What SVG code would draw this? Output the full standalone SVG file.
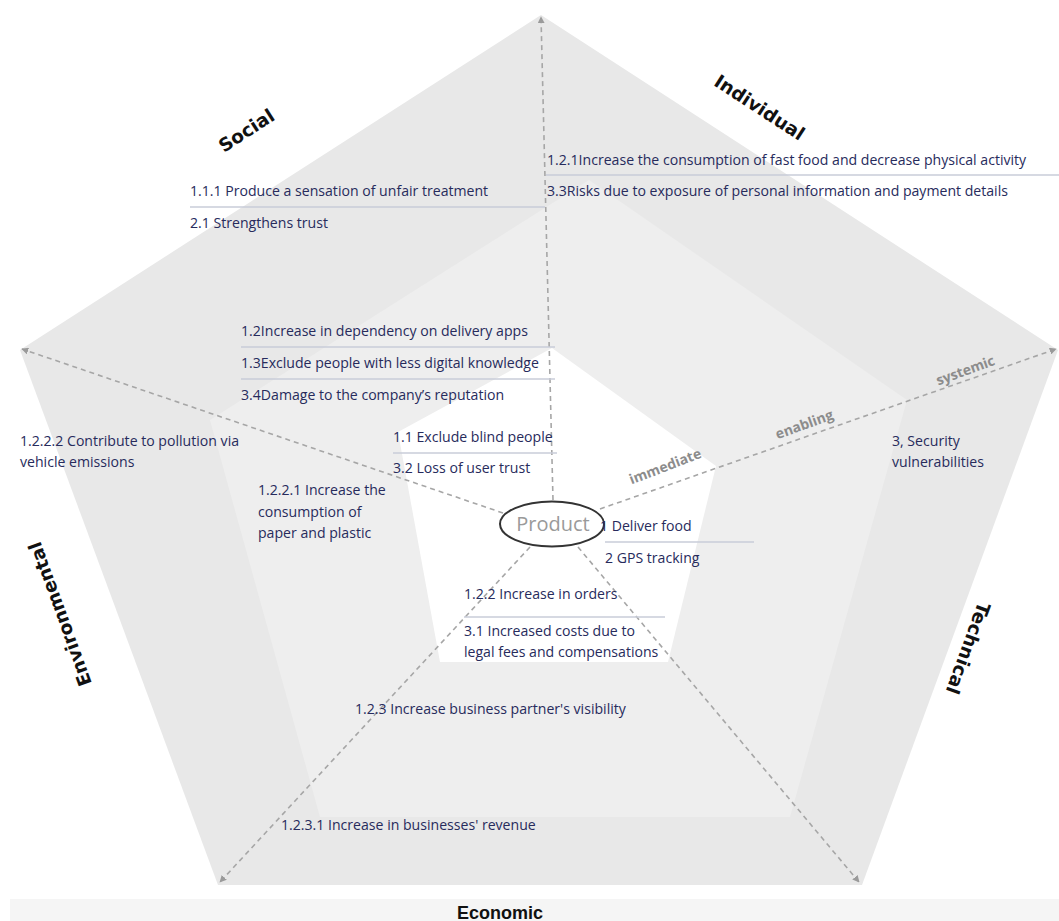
<svg xmlns="http://www.w3.org/2000/svg" width="1059" height="921" viewBox="0 0 1059 921">
  <style>
    .item { font-family: "Open Sans", "Liberation Sans", sans-serif; font-size: 14.1px; fill: #272b5c; }
    .sep { stroke: #c9ccd8; stroke-width: 1.4; fill: none; }
    .dim { font-family: "DejaVu Sans", "Liberation Sans", sans-serif; font-size: 18.5px; font-weight: bold; fill: #111; }
    .ring { font-family: "Open Sans", "Liberation Sans", sans-serif; font-size: 14px; font-weight: bold; fill: #8c8c8c; }
    .axis { stroke: #a6a6a6; stroke-width: 1.6; stroke-dasharray: 5 4; fill: none; marker-end: url(#tip); }
    #economic { font-family: "Liberation Sans", sans-serif; font-size: 18px; }
  </style>
  <defs>
    <marker id="tip" viewBox="0 0 10 10" refX="9" refY="5" markerWidth="7" markerHeight="7" orient="auto" markerUnits="userSpaceOnUse">
      <path d="M0,0 L10,5 L0,10 z" fill="#9a9a9a"/>
    </marker>
  </defs>

  <rect width="1059" height="921" fill="#ffffff"/>
  <rect x="10" y="899" width="1049" height="22" fill="#f5f5f5"/>

  <!-- nested rings: systemic (outer), enabling (middle), immediate (inner) -->
  <g id="rings">
    <polygon points="541,15 1058,350 862,885 218,885 20,350" fill="#e8e8e8"/>
    <polygon points="589,180 907,400 790,817 320,817 210,420" fill="#eeeeee"/>
    <polygon points="552,348 716,466 668,662 440,662 398,432" fill="#ffffff"/>
  </g>

  <!-- dashed axes from the product outwards -->
  <g id="connectors">
    <line class="axis" x1="553" y1="500" x2="541" y2="17"/>
    <line class="axis" x1="503" y1="513" x2="22" y2="349"/>
    <line class="axis" x1="600" y1="509" x2="1056" y2="349"/>
    <line class="axis" x1="530" y1="547" x2="220" y2="882"/>
    <line class="axis" x1="578" y1="547" x2="859" y2="882"/>
  </g>

  <!-- ring labels along the technical axis -->
  <g id="ring-labels">
    <text class="ring" text-anchor="middle" transform="translate(667,471) rotate(-21)">immediate</text>
    <text class="ring" text-anchor="middle" transform="translate(806,429) rotate(-20)">enabling</text>
    <text class="ring" text-anchor="middle" transform="translate(967,375) rotate(-20)">systemic</text>
  </g>

  <!-- dimension labels -->
  <g id="dimensions">
    <text id="social" class="dim" text-anchor="middle" transform="translate(250,136) rotate(-33)">Social</text>
    <text id="individual" class="dim" text-anchor="middle" transform="translate(756,113) rotate(33)">Individual</text>
    <text id="environmental" class="dim" text-anchor="middle" transform="translate(66,612) rotate(-110)">Environmental</text>
    <text id="technical" class="dim" text-anchor="middle" transform="translate(962,646) rotate(110)">Technical</text>
    <text id="economic" class="dim" text-anchor="middle" x="500" y="919">Economic</text>
  </g>

  <!-- product -->
  <g id="product">
    <ellipse cx="552" cy="524" rx="52" ry="22.5" fill="#ffffff" stroke="#333333" stroke-width="2"/>
    <text x="553" y="531" text-anchor="middle" font-family="Open Sans, Liberation Sans, sans-serif" font-size="20" fill="#9a9a9a">Product</text>
  </g>

  <!-- individual impacts -->
  <g id="individual-items">
    <text class="item" x="547" y="165">1.2.1Increase the consumption of fast food and decrease physical activity</text>
    <line class="sep" x1="546" y1="175" x2="1059" y2="175"/>
    <text class="item" x="547" y="196">3.3Risks due to exposure of personal information and payment details</text>
  </g>

  <!-- social impacts -->
  <g id="social-items">
    <text class="item" x="190" y="196">1.1.1 Produce a sensation of unfair treatment</text>
    <line class="sep" x1="190" y1="207" x2="545" y2="207"/>
    <text class="item" x="190" y="228">2.1 Strengthens trust</text>
  </g>

  <g id="social-items-2">
    <text class="item" x="241" y="336">1.2Increase in dependency on delivery apps</text>
    <line class="sep" x1="241" y1="347" x2="555" y2="347"/>
    <text class="item" x="241" y="368">1.3Exclude people with less digital knowledge</text>
    <line class="sep" x1="241" y1="379" x2="555" y2="379"/>
    <text class="item" x="241" y="400">3.4Damage to the company’s reputation</text>
  </g>

  <g id="social-items-3">
    <text class="item" x="393" y="442">1.1 Exclude blind people</text>
    <line class="sep" x1="393" y1="453" x2="557" y2="453"/>
    <text class="item" x="393" y="473">3.2 Loss of user trust</text>
  </g>

  <!-- environmental impacts -->
  <g id="environmental-items">
    <text class="item" x="20" y="446">1.2.2.2 Contribute to pollution via</text>
    <text class="item" x="20" y="467">vehicle emissions</text>
  </g>
  <g id="environmental-items-2">
    <text class="item" x="258" y="495">1.2.2.1 Increase the</text>
    <text class="item" x="258" y="517">consumption of</text>
    <text class="item" x="258" y="538">paper and plastic</text>
  </g>

  <!-- technical impacts -->
  <g id="technical-items">
    <text class="item" x="600" y="531">1 Deliver food</text>
    <line class="sep" x1="605" y1="542" x2="754" y2="542"/>
    <text class="item" x="605" y="563">2 GPS tracking</text>
  </g>
  <g id="technical-items-2">
    <text class="item" x="892" y="446">3, Security</text>
    <text class="item" x="892" y="467">vulnerabilities</text>
  </g>

  <!-- economic impacts -->
  <g id="economic-items">
    <text class="item" x="464" y="599">1.2.2 Increase in orders</text>
    <line class="sep" x1="464" y1="617" x2="665" y2="617"/>
    <text class="item" x="464" y="636">3.1 Increased costs due to</text>
    <text class="item" x="464" y="657">legal fees and compensations</text>
  </g>
  <g id="economic-items-2">
    <text class="item" x="355" y="714">1.2.3 Increase business partner's visibility</text>
  </g>
  <g id="economic-items-3">
    <text class="item" x="281" y="830">1.2.3.1 Increase in businesses' revenue</text>
  </g>
</svg>
